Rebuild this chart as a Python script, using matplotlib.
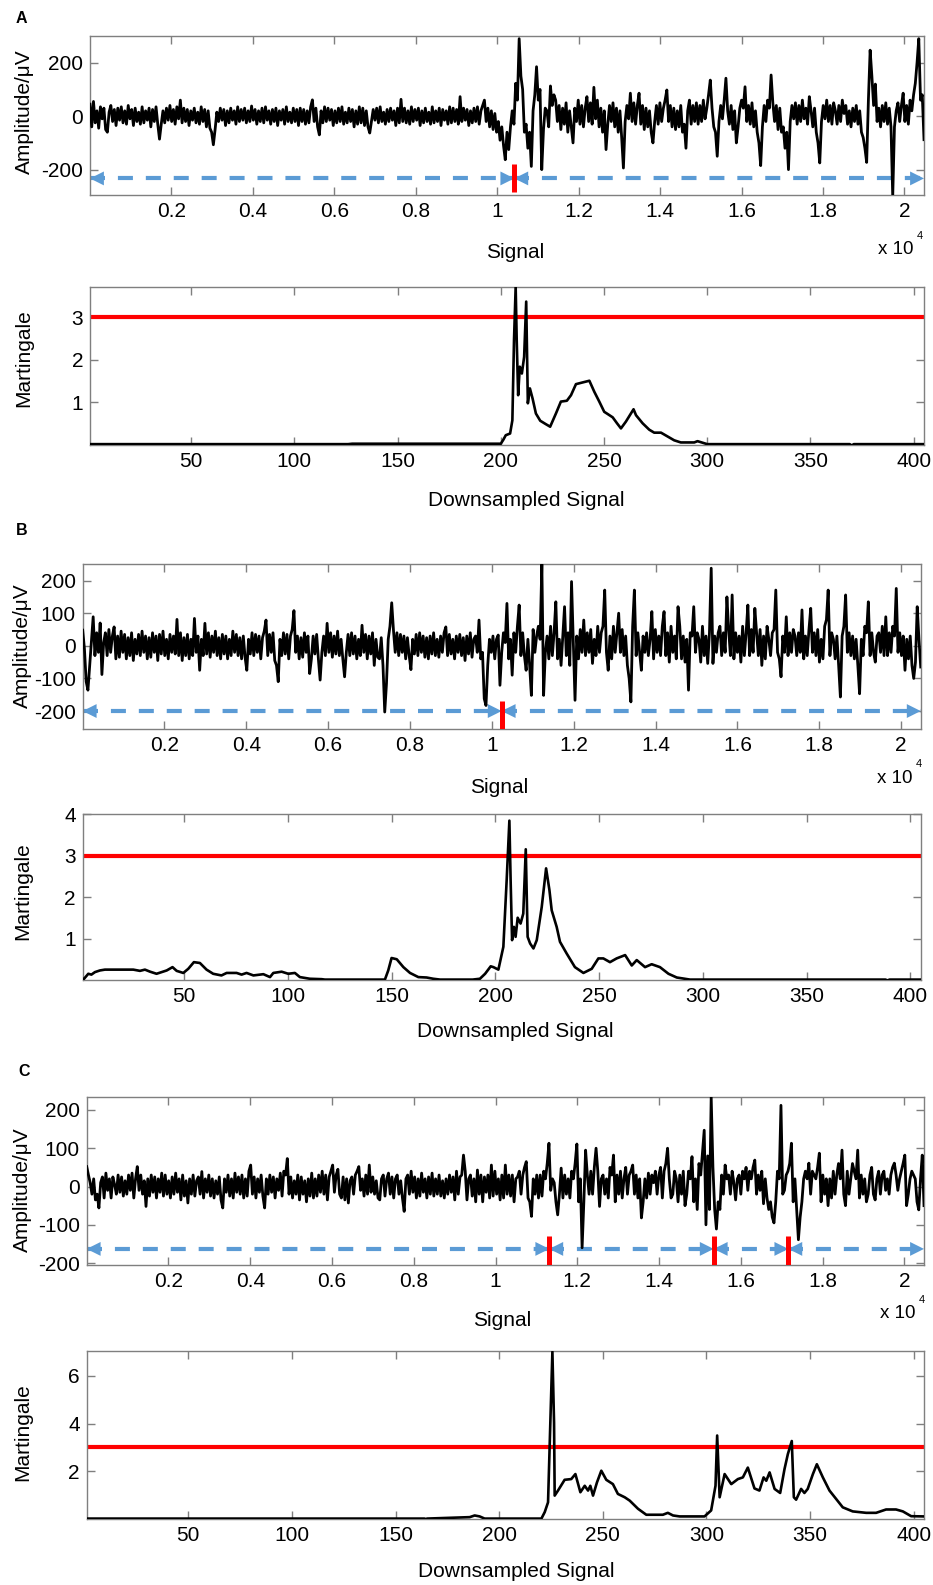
import numpy as np
import matplotlib.pyplot as plt

plt.rcParams['font.family'] = ['Liberation Sans', 'DejaVu Sans']
plt.rcParams['font.size'] = 15
plt.rcParams['axes.unicode_minus'] = False

W, H = 933, 1585
BLUE = '#5b9bd5'
GREY = '#7f7f7f'

# raw signals, one value every ~43 samples (local peaks / troughs)
sig_a = [45, -40, 55, -25, 20, -45, 35, -10, 30, -50, -60, 15, 40, -20, 25, -35, 30, -15, 35, -25,
         20, -30, 40, -10, 25, -35, 30, -20, 15, -30, 35, -25, 20, -15, 30, -40, 25, -20, 35, -30,
         -86, -30, 20, -25, 30, -15, 40, -20, 25, -30, 35, -10, 60, -25, 30, -20, 25, -35, 20, -15,
         30, -25, 15, -30, 35, -20, 25, -40, 20, -45, -60, -107, -50, 15, -20, 30, -15, 25, -35, 20,
         -25, 30, -15, 20, -30, 35, -20, 25, -15, 30, -25, 20, -20, 38, -15, 25, -30, 20, -20, 30,
         -25, 35, -15, 20, -30, 25, -20, 30, -35, 20, -15, 25, -30, 35, -20, 15, -25, 30, -20, 25,
         -35, 30, -20, 25, -30, 20, -25, 35, 61, -20, 30, -40, -70, 20, -25, 35, -20, 30, -15, 25,
         -35, 20, -25, 30, -20, 35, -30, 15, -25, 30, -20, 25, -40, 20, -30, 35, -25, 30, -35, 20,
         -40, -63, -20, 25, -15, 30, -25, 35, -20, 15, -30, 25, -20, 30, -15, 20, -35, 30, -25, 63,
         -20, 30, -25, 20, -30, 35, -20, 25, -15, 30, -35, 20, -25, 30, -20, 15, -30, 35, -25, 20,
         -20, 30, -35, 25, -15, 20, -30, 35, -25, 30, -20, 25, -30, 73, -20, 30, -15, 25, -35, 20,
         -25, 30, -20, 35, -30, 20, 40, 60, -20, 30, -40, 20, -50, 10, -60, -20, -90, -40, -110, -163,
         -60, -125, -40, 20, -30, 123, 60, 290, 150, 100, -60, -30, -120, -60, -188, 20, 80, 185, 60, 100,
         -200, -50, 30, 20, -40, 113, 40, 80, 60, -20, 40, -50, 30, -30, 50, -60, 20, -40, -100, 30,
         -20, 60, -30, 40, -40, 30, 73, -20, 50, -30, 108, -10, 60, -40, 30, -60, 20, -125, -30, 40,
         -20, 50, -40, 30, -60, 20, -80, -194, -20, 40, -10, 86, -20, 50, -30, 40, 86, -30, 40, -50,
         30, -40, 20, -60, -100, -20, 40, -30, 50, -20, 30, 60, 98, -20, 40, -40, 30, -50, 20, -40,
         40, -60, -30, -120, 20, 60, -30, 40, -20, 50, -30, 40, -20, 60, -10, 30, 80, 135, 30, -40,
         -60, -150, -20, 40, -10, 60, 142, 20, -30, 40, -50, 20, -100, -40, 30, 60, 30, 110, -20, 40,
         -30, 50, -40, 20, -60, -100, -185, -40, 40, -20, 60, 30, 154, 50, -20, 40, -50, 30, -60, -40,
         -120, -60, -200, -20, 40, -10, 50, -30, 40, -20, 60, -10, 30, -30, 73, 20, -40, 30, -60, -100,
         -175, -20, 40, -10, 60, -20, 40, -30, 50, 20, -30, 40, -20, 60, 10, 40, -30, 20, -40, 30,
         -20, 40, -30, 20, -60, -80, -120, -173, 60, 247, 150, 40, 120, -20, 30, -40, 40, -20, 50, -30,
         30, -40, -300, -40, 20, 50, -20, 40, 86, -20, 40, -30, 60, 20, 80, 123, 200, 290, 60, 80,
         -88]

sig_b = [48, -10, -110, -136, -60, 20, 89, -30, 40, -20, 70, -88, 10, 40, -30, 50, -20, 30, 58, -40,
         30, -35, 45, -20, 35, -40, 25, -30, 40, -45, 20, -25, 35, -30, 45, -20, 30, -40, 25, -35,
         40, -20, 30, -45, 35, -25, 45, -30, 20, -40, 35, -20, 30, -25, 81, -30, 40, -45, 25, -30,
         35, -40, 20, -30, 84, -20, 30, -75, 20, -30, 69, -25, 40, -35, 30, -20, 45, -30, 25, -40,
         35, -25, 30, -40, 20, -30, 45, -20, 35, -30, 25, -40, 30, -35, -75, 20, -25, 40, -30, 35,
         -20, 30, -40, 25, 45, 79, -30, 35, -20, 40, -45, -60, -110, 20, -30, 40, -25, 35, -40, 30,
         50, 108, -20, 30, -40, 25, -35, 40, -20, 30, -85, -40, 30, -25, 35, -40, -105, -20, 30, -30,
         69, -20, 40, -35, 30, -25, 45, -30, 20, -40, -95, -20, 35, -30, 40, -25, 30, -40, 20, -30,
         63, -20, 35, -40, 30, -25, 40, -60, 20, -35, -40, 25, -60, -203, -116, 20, 60, 132, 48, -20,
         40, -30, 35, -20, 30, -40, 25, -30, -73, 20, -25, 35, -30, 40, -20, 30, -35, 25, -40, 30,
         -25, 40, -30, 20, -35, 30, -20, 40, 58, -30, 35, -25, 20, -40, 30, -20, 35, -30, 25, -45,
         30, -25, 40, -35, 20, 30, -20, 79, -40, -20, -162, -183, -60, 20, -20, 30, -40, 20, 33, -121,
         -20, 40, 10, 130, -40, 20, -90, 40, -20, 60, 125, -30, 40, -30, -75, 20, -60, -152, 50, -20,
         30, 60, 20, 250, -152, -20, 30, -40, 60, -30, 40, 135, -40, 20, -60, 30, 120, -30, 40, -60,
         197, 20, -167, 30, -40, 50, -20, 79, -30, 40, -20, 50, -54, 20, -30, 60, -20, 40, 60, 171,
         -20, -75, 30, -40, 60, -20, 40, 100, -20, 50, -30, 30, -60, -100, -172, 60, 171, -30, 40, -20,
         -75, 30, -20, 40, -30, 20, 105, -40, 50, -20, 30, -30, 60, 105, -30, 40, -50, 60, -20, 30,
         -40, 120, 60, -40, 30, -50, 20, -136, 40, 30, 120, -20, 40, 20, -50, 60, -30, 30, -54, 40,
         238, -54, 30, -20, 40, 60, -30, 40, -20, 150, 50, -30, 156, -40, 40, -20, 30, -50, 60, -30,
         40, 125, -30, 50, -20, 115, 40, -30, 50, -60, 30, -40, 60, 20, -30, 40, 50, 171, -20, -40,
         -95, 30, -20, 89, -30, 40, -20, 50, 30, -30, 40, -20, 110, -40, 30, -30, 50, 115, -20, 40,
         -30, 50, -50, 20, -40, 60, 80, 171, -30, 40, 20, -40, 30, -60, -157, 30, 60, 156, -20, 40,
         -30, 30, -40, 20, -60, -147, 20, -30, 60, 40, 135, -30, 40, -20, -50, 30, 40, -20, 60, -30,
         89, -30, 40, -20, 60, 30, 176, -20, 40, -30, 30, -75, 20, -40, 30, -60, -100, -50, 120, 20,
         -65]

sig_c = [52, 30, 10, -20, 20, -35, -20, -56, 10, 25, -30, 35, -10, 20, -30, 25, 5, -20, 30, -15,
         25, -25, 15, -20, 30, -10, 35, -30, 20, 52, -10, 30, -20, 15, -52, 20, -25, 30, -15, 25,
         -30, 20, -15, 35, -25, 30, -20, 15, -30, 25, -20, 35, -15, 20, -35, 30, -25, 15, -43, 20,
         -20, 30, -25, 15, 25, -20, 39, -30, 20, -15, 30, -25, 20, -30, 15, -20, 25, -35, -56, 20,
         -15, 30, -25, 20, -30, 35, -15, 25, -20, 30, -30, 20, -25, 40, 56, -20, 25, -30, 20, -15,
         30, -25, -56, 20, -20, 30, -15, 25, -30, 20, -10, 35, -25, 40, 30, 73, -20, 25, -30, 15,
         -20, 30, -35, 25, -20, 15, -40, 20, -25, 35, -30, 20, -25, 30, -15, 40, -20, 30, -35, 25,
         40, 56, -15, 30, 45, -20, -30, 25, -35, 20, -43, 15, 25, -20, 30, 40, 52, -10, 20, -25,
         30, -20, 56, -15, 25, -20, 15, -30, -35, 20, 30, -25, 20, 35, -20, 25, -30, 20, 30, -20,
         15, -30, -65, 20, 30, -20, 40, -15, 25, -30, 20, -25, 35, -15, 20, -30, 25, -20, 35, -25,
         20, -20, 30, -25, 15, -30, 20, -20, 30, -15, 25, -35, 40, -20, 25, 30, 82, 40, -35, 20,
         30, -25, 20, -40, 43, -20, 30, -40, 25, -15, 30, -30, 56, -25, 40, -20, 20, -35, 30, -30,
         56, -20, 30, -25, 30, -40, 20, 25, 40, -20, 30, 50, 65, -30, -40, -78, 20, -20, 30, -30,
         30, -25, 40, 20, 60, 113, -10, 20, 10, -40, -74, -20, 48, -30, 30, -20, 20, -30, 40, 20,
         60, 111, -40, 20, -160, -40, 95, 30, -20, 40, -20, 50, 100, 40, -52, 20, 30, -20, 20, -30,
         50, 30, 82, -40, 30, -20, 40, -30, 20, 50, -20, 30, 40, 56, -20, 30, -30, 20, -82, -40,
         20, -30, 35, -20, 30, 10, 40, -20, 30, 50, -30, 40, 60, 100, 20, -30, -20, 40, 20, -40,
         30, -20, 40, -50, -20, 40, 20, 78, -40, 20, -60, 60, 30, 90, 147, -100, 80, -60, 233, 50,
         -60, -111, -40, -60, 30, -20, 56, 20, 30, -20, 40, 10, -35, 20, 30, -20, 40, 20, 50, -10,
         40, 20, 50, 69, -20, 30, -10, 40, -45, 20, -30, -60, -40, -80, -95, -40, 40, 20, 212, -20,
         -10, 30, 40, 60, 113, -40, 20, -60, -139, -80, -40, 20, 40, 20, 61, -20, 40, 30, 20, 50,
         87, -40, 30, -20, 20, -50, 20, -30, 40, -20, 30, 60, 20, 95, -20, -50, 40, -20, 20, 60,
         40, 20, 95, -30, 30, -20, 20, -40, -20, 30, 50, -20, -35, 20, 40, -20, 30, 40, -10, 20,
         -20, 30, 50, 61, 30, -10, 20, 40, 60, 82, -50, -20, 20, 40, 30, 20, -40, -61, 20, 82,
         -50]

# martingale traces (downsampled index, value)
mart_a = [(1, 0.02), (126, 0.02), (128, 0.03), (200, 0.03), (201.3, 0.13), (202.4, 0.23),
          (204.5, 0.27), (205.6, 0.58), (206.4, 2.47), (207.2, 3.72), (207.7, 2.47), (208.4, 1.17),
          (209.2, 1.84), (210.2, 1.68), (211.3, 2.07), (212.3, 3.37), (213.1, 0.98), (214.1, 1.33),
          (215.4, 1.09), (217.0, 0.74), (219.1, 0.57), (221.8, 0.49), (223.9, 0.43), (226.7, 0.74),
          (229.1, 1.02), (232, 1.04), (234, 1.17), (236.4, 1.43), (238.8, 1.46), (242.9, 1.51),
          (245.3, 1.25), (247.7, 1.02), (250.1, 0.78), (251.7, 0.73), (254.2, 0.65), (256.3, 0.51),
          (258.2, 0.39), (260.6, 0.55), (264.3, 0.84), (265.5, 0.70), (268.7, 0.51), (271.9, 0.36),
          (274.3, 0.29), (277.6, 0.29), (280.8, 0.20), (284, 0.11), (287.2, 0.06), (293.7, 0.06),
          (295.3, 0.09), (300, 0.02), (369, 0.02), (370, -0.01), (371, 0.02), (405, 0.02)]

mart_b = [(1, 0.02), (1.5, 0.02), (3.7, 0.15), (5.2, 0.13), (6.9, 0.19), (9.3, 0.23), (11.7, 0.25),
          (25.4, 0.25), (28.6, 0.22), (31, 0.25), (33.5, 0.2), (36.6, 0.15), (41.5, 0.23), (44.3, 0.31),
          (46.3, 0.22), (49.5, 0.17), (51.9, 0.27), (54.6, 0.43), (57.5, 0.41), (60.7, 0.25),
          (63.9, 0.15), (67.9, 0.11), (70.4, 0.17), (75.2, 0.17), (77.6, 0.13), (80, 0.17),
          (83.3, 0.11), (88.1, 0.14), (91.3, 0.07), (92.9, 0.17), (96.9, 0.2), (100.1, 0.15),
          (103.3, 0.17), (105.7, 0.07), (110.5, 0.03), (116.2, 0.02), (117.8, 0.01), (146.7, 0.01),
          (148.3, 0.23), (149.9, 0.53), (152.4, 0.5), (155.6, 0.31), (158.8, 0.17), (162.8, 0.07),
          (166.8, 0.06), (170, 0.03), (173.3, 0.01), (189, 0.01), (192.5, 0.03), (195, 0.15),
          (197.7, 0.33), (199, 0.31), (201.4, 0.25), (203.8, 0.8), (205.4, 2.41), (206.7, 3.84),
          (207.3, 2.41), (208, 0.96), (208.9, 1.28), (209.7, 1.04), (210.7, 1.5), (212.1, 1.36),
          (213.4, 1.6), (214.6, 3.15), (215.5, 1.04), (216.7, 0.88), (218.3, 0.76), (219.9, 0.96),
          (222.3, 1.76), (224.4, 2.69), (226, 2.17), (227.1, 1.68), (229.5, 1.28), (231.1, 0.92),
          (234.3, 0.64), (238.3, 0.31), (242.4, 0.17), (246.4, 0.27), (249.6, 0.52), (252, 0.52),
          (255.2, 0.43), (258.4, 0.52), (262.5, 0.6), (265.7, 0.35), (268.1, 0.48), (272.1, 0.31),
          (275.3, 0.38), (279.3, 0.31), (283.4, 0.15), (287.4, 0.06), (293.8, 0.01), (388, 0.01),
          (389, -0.01), (390, 0.01), (405, 0.01)]

mart_c = [(1, 0.03), (164, 0.03), (164.6, 0.0), (165.2, 0.03), (185.8, 0.09), (188.2, 0.16),
          (190.6, 0.12), (193, 0.03), (220.4, 0.03), (222, 0.3), (223.6, 0.71), (224.7, 4.03),
          (225.7, 7.0), (226.5, 4.03), (226.8, 0.99), (228.4, 1.2), (231.6, 1.65), (234.8, 1.68),
          (236.8, 1.89), (239.2, 1.13), (241.3, 1.4), (242.9, 1.2), (244, 1.4), (245.3, 0.99),
          (247.2, 1.54), (249.3, 2.03), (251.7, 1.65), (254.9, 1.47), (257.3, 1.06), (260.6, 0.92),
          (263, 0.78), (267, 0.44), (271, 0.19), (279, 0.19), (281.4, 0.27), (283.9, 0.16),
          (287.1, 0.12), (299.1, 0.12), (302.3, 0.37), (304.4, 1.4), (305.2, 3.5), (306.4, 0.92),
          (308.8, 1.89), (312, 1.47), (315.2, 1.68), (317.6, 1.75), (320, 2.16), (323.2, 1.29),
          (325.6, 1.2), (327.6, 1.75), (328.9, 1.61), (330.5, 1.96), (332.9, 1.27), (335.6, 1.1),
          (337.7, 2.1), (339.3, 2.72), (341.2, 3.27), (342.2, 0.92), (343.3, 0.82), (345.7, 1.27),
          (347.3, 1.1), (348.9, 1.27), (351.4, 1.89), (353.3, 2.3), (356.2, 1.75), (359.4, 1.2),
          (362.6, 0.85), (365.8, 0.5), (370.6, 0.33), (377.1, 0.27), (381.9, 0.27), (386.7, 0.41),
          (391.5, 0.41), (394.8, 0.33), (398.8, 0.13), (405, 0.12)]

change_a = [10420]
change_b = [10240]
change_c = [11315, 15337, 17162]
threshold = 3

sig_xticks = [2000 * k for k in range(1, 11)]
sig_xlabels = ['0.2', '0.4', '0.6', '0.8', '1', '1.2', '1.4', '1.6', '1.8', '2']
mart_xticks = [50, 100, 150, 200, 250, 300, 350, 400]

assert len(sig_a) == len(sig_b) == len(sig_c) == 481, (len(sig_a), len(sig_b), len(sig_c))

fig = plt.figure(figsize=(W / 100, H / 100), dpi=100)


def box(left, top, right, bottom):
    return [left / W, 1 - bottom / H, (right - left) / W, (bottom - top) / H]


def style(ax):
    for s in ax.spines.values():
        s.set_color(GREY)
        s.set_linewidth(1.0)
    ax.tick_params(direction='in', top=True, right=True, length=6, width=1,
                   color=GREY, labelsize=15, pad=5)


def put_labels(ax, xlab, xpos, ylab, ypos):
    ax.set_xlabel(xlab, fontsize=15)
    ax.set_ylabel(ylab, fontsize=15)
    ax.xaxis.set_label_coords(xpos[0] / W, 1 - xpos[1] / H, transform=fig.transFigure)
    ax.yaxis.set_label_coords(ypos[0] / W, 1 - ypos[1] / H, transform=fig.transFigure)
    ax.xaxis.label.set_va('center')
    ax.yaxis.label.set_va('center')


def signal_panel(rect, sig, ylim, yticks, arrow_y, cps, cp_top, cp_bottom, xpos, ypos, expo):
    ax = fig.add_axes(box(*rect))
    style(ax)
    x = np.linspace(1, 20480, len(sig))
    ends = [1] + cps + [20480]
    head = dict(arrowstyle='-|>,head_length=0.5,head_width=0.25', color=BLUE, lw=0,
                shrinkA=0, shrinkB=0, mutation_scale=20)
    for a, b in zip(ends[:-1], ends[1:]):
        ax.plot([a, b], [arrow_y, arrow_y], color=BLUE, lw=3, dashes=(3.6, 3.1), zorder=1)
        ax.annotate('', xy=(a, arrow_y), xytext=(a + 700, arrow_y), arrowprops=head, zorder=2)
        ax.annotate('', xy=(b, arrow_y), xytext=(b - 700, arrow_y), arrowprops=head, zorder=2)
    ax.plot(x, sig, color='black', lw=2.0, zorder=3)
    for cp in cps:
        ax.plot([cp, cp], [cp_top, cp_bottom], color='red', lw=3.6, solid_capstyle='butt', zorder=4)
    ax.set_xlim(1, 20480)
    ax.set_ylim(*ylim)
    ax.set_xticks(sig_xticks)
    ax.set_xticklabels(sig_xlabels)
    ax.set_yticks(yticks)
    put_labels(ax, 'Signal', xpos, 'Amplitude/\u03bcV', ypos)
    fig.text(expo[0] / W, 1 - expo[1] / H, 'x 10', fontsize=13.5, ha='center', va='center')
    fig.text((expo[0] + 24) / W, 1 - (expo[1] - 14) / H, '4', fontsize=8, ha='center', va='center')
    return ax


def mart_panel(rect, trace, ytop, yticks, xpos, ypos):
    ax = fig.add_axes(box(*rect))
    style(ax)
    mx = [p[0] for p in trace]
    my = [p[1] for p in trace]
    ax.axhline(threshold, color='red', lw=3, zorder=2)
    ax.plot(mx, my, color='black', lw=1.9, zorder=3)
    ax.set_xlim(1, 405)
    ax.set_ylim(0, ytop)
    ax.set_xticks(mart_xticks)
    ax.set_yticks(yticks)
    put_labels(ax, 'Downsampled Signal', xpos, 'Martingale', ypos)
    return ax


# panel A
signal_panel((90, 36, 924, 195), sig_a, (-295, 300), [-200, 0, 200], -233, change_a, -180, -285,
             (515, 252.7), (24, 111.7), (896, 250))
mart_panel((90, 286.7, 924, 445), mart_a, 3.72, [1, 2, 3], (526.7, 500), (23.3, 358.3))

# panel B
signal_panel((82.7, 564.3, 920.7, 729.3), sig_b, (-256, 250), [-200, -100, 0, 100, 200], -200,
             change_b, -168, -256, (499, 788), (22.5, 645.8), (895, 778.3))
mart_panel((82.7, 814, 920.7, 980), mart_b, 4, [1, 2, 3, 4], (515, 1031.7), (22.5, 890.8))

# panel C
signal_panel((86.7, 1097.3, 924, 1265), sig_c, (-205, 233), [-200, -100, 0, 100, 200], -163,
             change_c, -128, -205, (502, 1320), (22.5, 1189.2), (898, 1314))
mart_panel((86.7, 1351, 924, 1519.3), mart_c, 7.03, [2, 4, 6], (516.7, 1571.7), (22.5, 1431.7))

for letter, (lx, ly) in zip('ABC', [(21.7, 18.3), (22, 530.5), (24, 1071.7)]):
    fig.text(lx / W, 1 - ly / H, letter, fontsize=11.5, fontweight='bold', ha='center', va='center')

fig.savefig('out.png', dpi=100)
